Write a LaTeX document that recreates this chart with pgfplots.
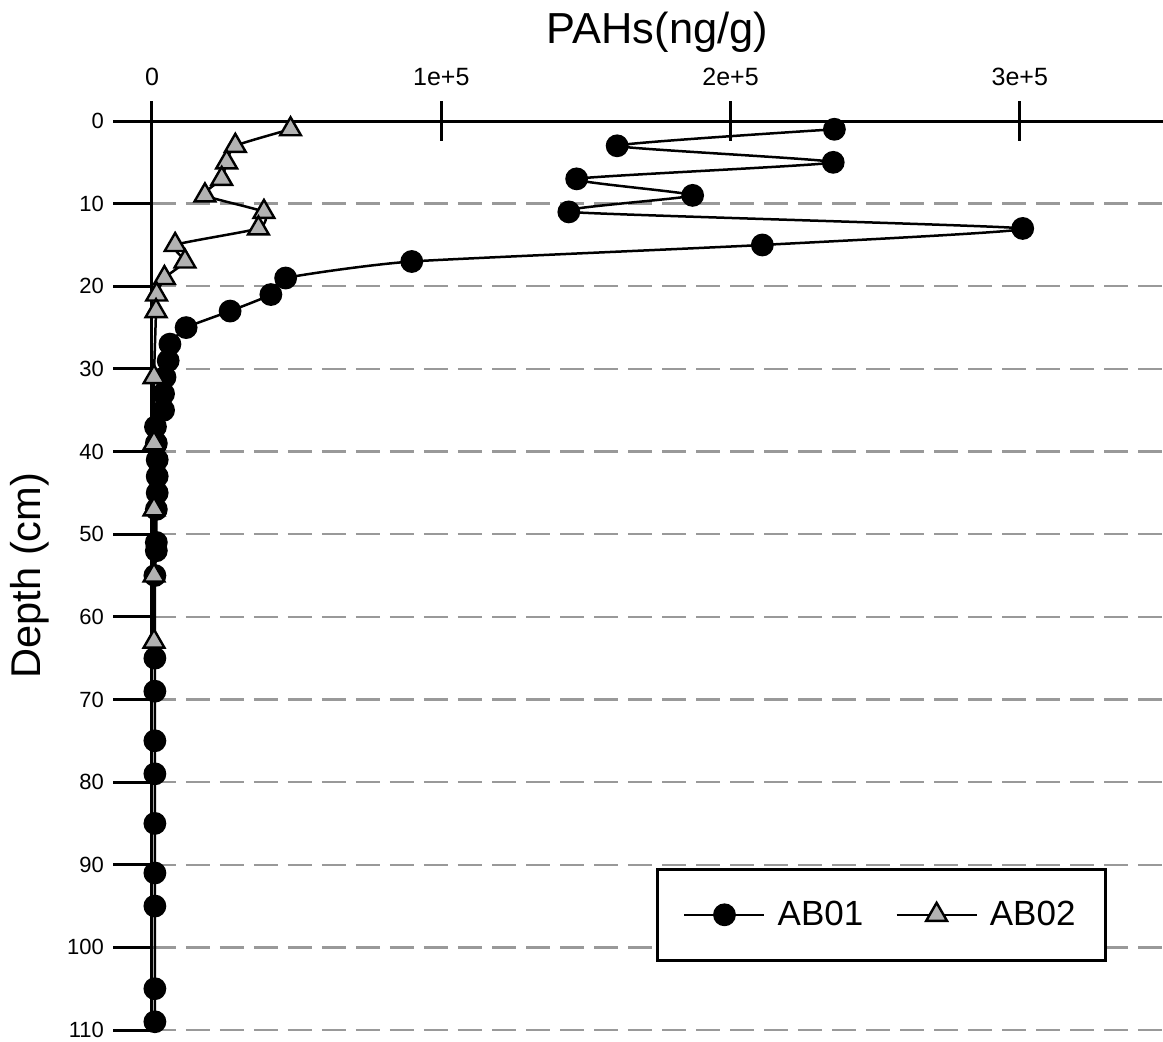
\documentclass[border=0pt]{standalone}
\usepackage{pgfplots}
\pgfplotsset{compat=1.18}
\usepackage{fontspec}
\setmainfont{Liberation Sans}

\pgfplotstableread{
x y
2.359e5 1
1.608e5 3
2.355e5 5
1.468e5 7
1.869e5 9
1.441e5 11
3.010e5 13
2.110e5 15
0.898e5 17
0.462e5 19
0.411e5 21
0.270e5 23
0.118e5 25
0.062e5 27
0.056e5 29
0.045e5 31
0.040e5 33
0.040e5 35
0.012e5 37
0.015e5 39
0.018e5 41
0.018e5 43
0.018e5 45
0.015e5 47
0.015e5 51
0.015e5 52
0.010e5 55
0.010e5 65
0.010e5 69
0.010e5 75
0.010e5 79
0.010e5 85
0.010e5 91
0.010e5 95
0.010e5 105
0.010e5 109
}\abzeroone

\pgfplotstableread{
x y
0.479e5 1
0.288e5 3
0.258e5 5
0.241e5 7
0.183e5 9
0.387e5 11
0.368e5 13
0.080e5 15
0.114e5 17
0.043e5 19
0.016e5 21
0.014e5 23
0.007e5 31
0.007e5 39
0.007e5 47
0.007e5 55
0.007e5 63
}\abzerotwo

\begin{document}
\begin{tikzpicture}
\begin{axis}[
  at={(0,0)}, anchor=south west,
  scale only axis,
  width=505.5pt, height=454.5pt,
  xmin=0, xmax=3.495e5,
  ymin=0, ymax=110,
  y dir=reverse,
  axis x line*=top,
  axis y line*=left,
  axis line style={line width=1.5pt, -},
  xtick={0,1e5,2e5,3e5},
  xticklabels={0,1e+5,2e+5,3e+5},
  scaled x ticks=false,
  ytick={0,10,...,110},
  yticklabels={0,10,20,30,40,50,60,70,80,90,100,110},
  tick align=center,
  major tick length=20pt,
  tick style={line width=1.5pt, black},
  ytick style={xshift=-9.25pt},
  xticklabel style={font=\fontsize{12.5}{15}\selectfont, yshift=4pt},
  yticklabel style={font=\fontsize{11}{13}\selectfont, xshift=-10.5pt},
  ymajorgrids,
  grid style={black!40, line width=1.2pt, dash pattern=on 12pt off 5pt},
  xlabel={PAHs(ng/g)},
  xlabel style={font=\fontsize{21.7}{26}\selectfont, at={(axis description cs:0.5,1.0858)}, anchor=base},
  ylabel={Depth (cm)},
  ylabel style={font=\fontsize{20.8}{25}\selectfont, at={(axis description cs:-0.1207,0.5)}, anchor=center},
  clip=false,
  legend columns=2,
  legend style={at={(axis description cs:0.9446,0.0748)}, anchor=south east, draw=black, line width=1.5pt,
    font=\fontsize{17.5}{21}\selectfont, inner xsep=13pt, inner ysep=14pt,
    /tikz/every odd column/.append style={column sep=4pt},
    /tikz/every even column/.append style={column sep=14pt}},
  legend image code/.code={\draw[mark repeat=2, mark phase=2, #1] plot coordinates {(0pt,0pt) (20pt,0pt) (40pt,0pt)};},
]
\addplot[black, line width=1.25pt, smooth, tension=0.3, mark=*, mark size=5.2pt,
  mark options={solid, fill=black, draw=black, line width=1pt}] table[x=x, y=y] {\abzeroone};
\addlegendentry{AB01}
\addplot[black, line width=1.25pt, smooth, tension=0.3, mark=triangle*, mark size=6pt,
  mark options={solid, fill=black!30, draw=black, line width=1.2pt}] table[x=x, y=y] {\abzerotwo};
\addlegendentry{AB02}
\end{axis}
\pgfresetboundingbox
\path (-76pt,-5.5pt) rectangle (505.5pt,515pt);
\end{tikzpicture}
\end{document}
